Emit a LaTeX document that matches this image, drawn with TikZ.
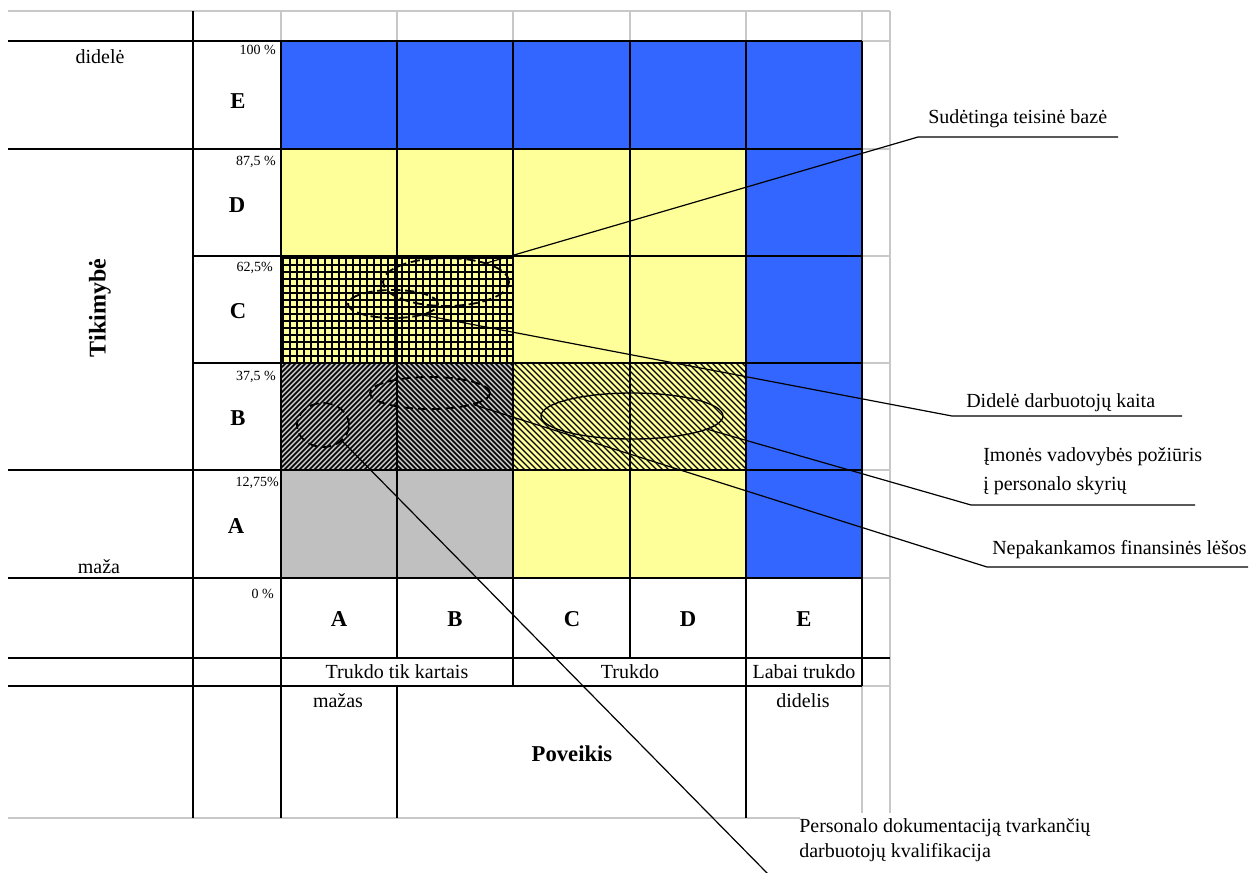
\documentclass[tikz,border=0pt]{standalone}
\usepackage{fontspec}
\setmainfont{Liberation Serif}
\usetikzlibrary{shapes.geometric}
\definecolor{cblue}{HTML}{3366FF}
\definecolor{cyel}{HTML}{FFFF99}
\definecolor{cgray}{HTML}{C0C0C0}
\definecolor{cgrid}{HTML}{C8C8C8}
\begin{document}
\begin{tikzpicture}[x=0.75pt,y=-0.75pt,
  gridline/.style={line width=1pt,black},
  faint/.style={line width=0.8pt,cgrid},
  lbl/.style={font=\fontsize{15}{18}\selectfont, inner sep=0pt},
  big/.style={font=\fontsize{17}{20}\selectfont\bfseries, inner sep=0pt},
  pct/.style={font=\fontsize{10.5}{12}\selectfont, inner sep=0pt, anchor=east},
  blob/.style={ellipse, draw, line width=1.4pt, dash pattern=on 7pt off 3.5pt, inner sep=0pt},
  leader/.style={line width=0.9pt}
]
\useasboundingbox (0,0) rectangle (1256,872);
\fill[white] (0,0) rectangle (1256,872);
% fills
\fill[cblue] (746,41) rectangle (862,578);
\fill[cblue] (281,41) rectangle (746,149);
\fill[cyel] (281,149) rectangle (746,363);
\fill[cgray] (281,363) rectangle (513,470);
\fill[cyel] (513,363) rectangle (746,578);
\fill[cgray] (281,470) rectangle (513,578);
% crosshatch
\begin{scope}
\clip (281,256) rectangle (513,363);
\foreach \x in {283,290,...,513} \draw[line width=1.05pt] (\x,256) -- (\x,363);
\foreach \y in {258,265,...,363} \draw[line width=1.05pt] (281,\y) -- (513,\y);
\end{scope}
% hatch A (/)
\begin{scope}
\clip (281,363) rectangle (397,470);
\foreach \i in {0,5,...,230} \draw[line width=1.2pt] (174+\i,470) -- ++(107,-107);
\end{scope}
% hatch B (\)
\begin{scope}
\clip (397,363) rectangle (513,470);
\foreach \i in {0,5,...,230} \draw[line width=1.2pt] (290+\i,363) -- ++(107,107);
\end{scope}
% hatch C-D (\)
\begin{scope}
\clip (513,363) rectangle (746,470);
\foreach \i in {0,6,...,342} \draw[line width=0.8pt] (406+\i,363) -- ++(107,107);
\end{scope}
% faint grid
\draw[faint] (8,11) -- (890,11);
\draw[faint] (890,11) -- (890,813);
\draw[faint] (862,11) -- (862,41);
\draw[faint] (862,686) -- (862,813);
\foreach \x in {281,397,513,630,746} \draw[faint] (\x,11) -- (\x,41);
\foreach \y in {41,149,256,363,470,578,686} \draw[faint] (862,\y) -- (890,\y);
\draw[faint] (8,818) -- (800,818);
% black grid
\draw[gridline] (193,11) -- (193,818);
\draw[gridline] (281,41) -- (281,818);
\foreach \x in {397,513,630,746,862} \draw[gridline] (\x,41) -- (\x,658);
\foreach \x in {513,746,862} \draw[gridline] (\x,658) -- (\x,686);
\foreach \x in {397,746} \draw[gridline] (\x,686) -- (\x,818);
\foreach \y in {41,149,470,578,686} \draw[gridline] (8,\y) -- (862,\y);
\foreach \y in {256,363} \draw[gridline] (193,\y) -- (862,\y);
\draw[gridline] (8,658) -- (890,658);
% left texts
\node[lbl] (didele) at (100,57) {didelė};
\node[lbl] (maza) at (99,567) {maža};
\node[font=\fontsize{18}{20}\selectfont\bfseries, rotate=90, inner sep=0pt] (tik) at (100,308) {Tikimybė};
\node[big] (rE) at (238,101) {E};
\node[big] (rD) at (237,205) {D};
\node[big] (rC) at (238,311) {C};
\node[big] (rB) at (238,418) {B};
\node[big] (rA) at (236,526) {A};
\node[pct] (p100) at (276,50) {100 \%};
\node[pct] (p875) at (276,162) {87,5 \%};
\node[pct] (p625) at (273,268) {62,5\%};
\node[pct] (p375) at (276,377) {37,5 \%};
\node[pct] (p1275) at (279,483) {12,75\%};
\node[pct] (p0) at (274,594) {0 \%};
% bottom texts
\node[big] (cA) at (339,619) {A};
\node[big] (cB) at (455,619) {B};
\node[big] (cC) at (572,619) {C};
\node[big] (cD) at (688,619) {D};
\node[big] (cE) at (804,619) {E};
\node[lbl] (g1) at (397,672) {Trukdo tik kartais};
\node[lbl] (g2) at (630,672) {Trukdo};
\node[lbl] (g3) at (804,672) {Labai trukdo};
\node[lbl] (mazas) at (338,701) {mažas};
\node[lbl] (didelis) at (803,701) {didelis};
\node[big] (pov) at (572,754) {Poveikis};
% ellipses
\node[blob, minimum width=94.5pt, minimum height=36pt] (e1) at (446,282) {};
\node[blob, minimum width=67.5pt, minimum height=21pt] (e2) at (393,304) {};
\node[blob, minimum width=90pt, minimum height=24pt] (e3) at (430,393) {};
\node[blob, minimum width=39pt, minimum height=33pt] (e4) at (323,425) {};
\node[ellipse, draw, line width=1pt, inner sep=0pt, minimum width=136.5pt, minimum height=34.5pt] (e5) at (632,416) {};
% leaders
\coordinate (k1) at (918,137); \coordinate (k1e) at (1118,137);
\coordinate (k2) at (952,416); \coordinate (k2e) at (1182,416);
\coordinate (k3) at (971,505); \coordinate (k3e) at (1195,505);
\coordinate (k4) at (987,567); \coordinate (k4e) at (1248,567);
\coordinate (k5) at (768,874);
\draw[leader] (e1.25) -- (k1) -- (k1e);
\draw[leader] (e2.-20) -- (k2) -- (k2e);
\draw[leader] (e5.-10) -- (k3) -- (k3e);
\draw[leader] (e3.-15) -- (k4) -- (k4e);
\draw[leader] (e4.-40) -- (k5);
\node[lbl, anchor=west] (t1) at (928,119) {Sudėtinga teisinė bazė};
\node[lbl, anchor=west] (t2) at (966,403) {Didelė darbuotojų kaita};
\node[lbl, anchor=west, align=left, font=\fontsize{15}{21.5}\selectfont] (t3) at (983,471) {Įmonės vadovybės požiūris\\į personalo skyrių};
\node[lbl, anchor=west] (t4) at (992,550) {Nepakankamos finansinės lėšos};
\node[lbl, anchor=west, align=left, font=\fontsize{15}{19}\selectfont] (t5) at (799,840) {Personalo dokumentaciją tvarkančių\\darbuotojų kvalifikacija};
\end{tikzpicture}
\end{document}
